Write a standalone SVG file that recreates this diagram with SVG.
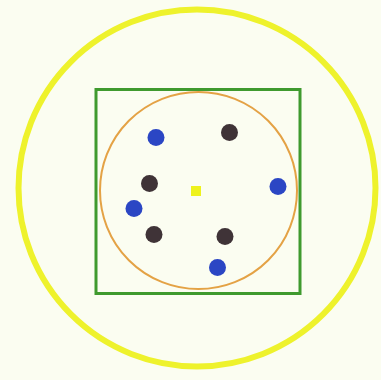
<svg xmlns="http://www.w3.org/2000/svg" width="381" height="380" viewBox="0 0 381 380">
<style>
.bg{fill:#fbfdf1}
.outer{fill:none;stroke:#eef22c;stroke-width:6px}
.sq{fill:none;stroke:#3f9a2e;stroke-width:3px}
.inner{fill:none;stroke:#e4a245;stroke-width:2px}
.blue{fill:#2b46c4;stroke:none}
.dark{fill:#3f3337;stroke:none}
.ctr{fill:#eef21c;stroke:none}
</style>
<rect class="bg" x="0" y="0" width="381" height="380"/>
<g id="outer-circle"><path class="outer" d="M18.5 188 A178.5 178.5 0 1 0 375.5 188 A178.5 178.5 0 1 0 18.5 188 Z"/></g>
<g id="square"><rect class="sq" x="96" y="89.5" width="204" height="204"/></g>
<g id="inner-circle"><path class="inner" d="M100 190.5 A98.5 98.5 0 1 0 297 190.5 A98.5 98.5 0 1 0 100 190.5 Z"/></g>
<g id="blue-dots">
<path class="blue" d="M147.5 137.5 a8.5 8.5 0 1 0 17 0 a8.5 8.5 0 1 0 -17 0 Z"/>
<path class="blue" d="M269.5 186.5 a8.5 8.5 0 1 0 17 0 a8.5 8.5 0 1 0 -17 0 Z"/>
<path class="blue" d="M125.5 208.5 a8.5 8.5 0 1 0 17 0 a8.5 8.5 0 1 0 -17 0 Z"/>
<path class="blue" d="M209 267.5 a8.5 8.5 0 1 0 17 0 a8.5 8.5 0 1 0 -17 0 Z"/>
</g>
<g id="dark-dots">
<path class="dark" d="M221 132.5 a8.5 8.5 0 1 0 17 0 a8.5 8.5 0 1 0 -17 0 Z"/>
<path class="dark" d="M141 183.5 a8.5 8.5 0 1 0 17 0 a8.5 8.5 0 1 0 -17 0 Z"/>
<path class="dark" d="M145.5 234.5 a8.5 8.5 0 1 0 17 0 a8.5 8.5 0 1 0 -17 0 Z"/>
<path class="dark" d="M216.5 236.5 a8.5 8.5 0 1 0 17 0 a8.5 8.5 0 1 0 -17 0 Z"/>
</g>
<g id="center"><rect class="ctr" x="191" y="186" width="10" height="10"/></g>
</svg>
